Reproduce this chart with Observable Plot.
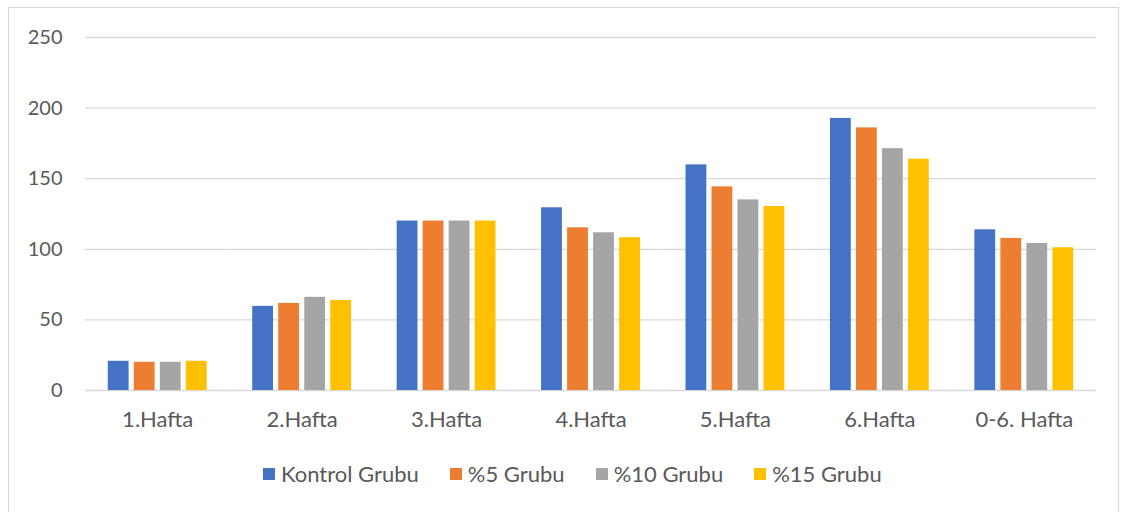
<!DOCTYPE html>
<html>
<head>
<meta charset="utf-8">
<script src="https://cdn.jsdelivr.net/npm/d3@7"></script>
<script src="https://cdn.jsdelivr.net/npm/@observablehq/plot@0.6"></script>
<style>
  body { margin: 0; background: #fff; font-family: Lato, "Open Sans", sans-serif; }
  #frame { position: absolute; left: 8px; top: 7px; width: 1111px; height: 520px; border: 1px solid #d9d9d9; box-sizing: border-box; }
  #chart { position: absolute; left: 0; top: 0; }
  #legend { position: absolute; left: 263px; top: 460px; display: flex; gap: 31px; color: #595959; font-size: 22px; }
  .item { display: flex; align-items: center; gap: 6px; }
  .sw { width: 12px; height: 12px; display: inline-block; }
</style>
</head>
<body>
<div id="frame"></div>
<div id="chart"></div>
<div id="legend"></div>
<script>
const weeks = ["1.Hafta", "2.Hafta", "3.Hafta", "4.Hafta", "5.Hafta", "6.Hafta", "0-6. Hafta"];
const groups = ["Kontrol Grubu", "%5 Grubu", "%10 Grubu", "%15 Grubu"];
const kontrol = [20.7, 59.6, 120, 129.4, 159.8, 192.7, 113.8];
const grup5 = [20, 61.7, 120, 115.2, 144.2, 186, 107.7];
const grup10 = [20, 66, 120, 111.7, 135, 171.3, 104.1];
const grup15 = [20.7, 63.8, 120, 108.2, 130.3, 163.8, 101.1];
const yTicks = [0, 50, 100, 150, 200, 250];
const colors = ["#4472C4", "#ED7D31", "#A5A5A5", "#FFC000"];

const series = [kontrol, grup5, grup10, grup15];
const data = [];
weeks.forEach((w, i) => groups.forEach((g, j) => data.push({week: w, group: g, value: series[j][i]})));

const chart = Plot.plot({
  width: 1127,
  height: 440,
  marginLeft: 85,
  marginRight: 31,
  marginTop: 37,
  marginBottom: 50,
  style: {fontFamily: "Lato, 'Open Sans', sans-serif", fontSize: "20px", color: "#595959", background: "transparent"},
  fx: {domain: weeks, paddingInner: 0, paddingOuter: 0, round: false, label: null},
  x: {domain: groups, axis: null, paddingInner: 0.2, paddingOuter: 0.876, round: false},
  y: {domain: [0, 250], axis: null},
  color: {domain: groups, range: colors},
  marks: [
    Plot.gridY(yTicks, {stroke: "#d9d9d9", strokeOpacity: 1, strokeWidth: 1.3}),
    Plot.barY(data, {fx: "week", x: "group", y: "value", fill: "group"}),
    Plot.axisY(yTicks, {tickSize: 0, tickPadding: 23, fontSize: 20, fill: "#595959", label: null}),
    Plot.axisFx({anchor: "bottom", tickSize: 0, tickPadding: 21, fontSize: 22, fill: "#595959", label: null})
  ]
});
document.getElementById("chart").appendChild(chart);

const legend = document.getElementById("legend");
groups.forEach((g, i) => {
  const it = document.createElement("div");
  it.className = "item";
  const sw = document.createElement("span");
  sw.className = "sw";
  sw.style.background = colors[i];
  const t = document.createElement("span");
  t.textContent = g;
  it.appendChild(sw); it.appendChild(t);
  legend.appendChild(it);
});
</script>
</body>
</html>
